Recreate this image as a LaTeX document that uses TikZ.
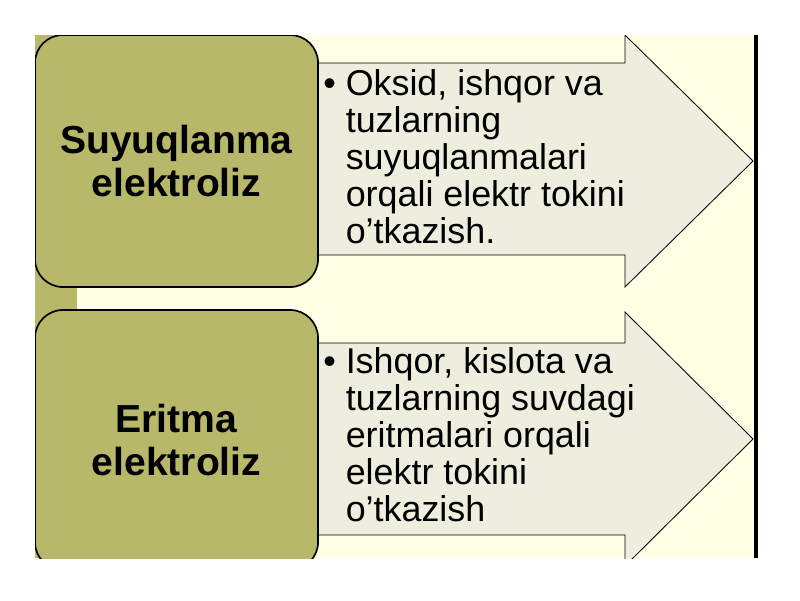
\documentclass[tikz,border=0pt]{standalone}
\usepackage{fontspec}
\setmainfont{Liberation Sans}
\definecolor{boxolive}{HTML}{B8B86A}
\definecolor{pagecream}{HTML}{FFFFE6}
\definecolor{arrowgrey}{HTML}{EEEEDF}

\begin{document}
\begin{tikzpicture}[x=0.025cm, y=-0.025cm]

\tikzstyle{stagebox}=[rectangle, draw=black, line width=1.2pt, fill=boxolive, rounded corners=0.7cm, minimum width=7.075cm, align=center, font=\bfseries\fontsize{27.8}{30}\selectfont]
\tikzstyle{arrowshape}=[draw=black, line width=0.6pt, fill=arrowgrey]
\tikzstyle{itemtext}=[anchor=north west, inner sep=0pt, align=left, font=\fontsize{25.5}{26.3}\selectfont]

\useasboundingbox[fill=white] (0,0) rectangle (800,600);
\fill[pagecream] (35,35) rectangle (757,558);
\fill[boxolive] (35,35) rectangle (77,558);

\begin{scope}
\clip (35,35) rectangle (757,558);
% arrows behind the boxes
\draw[arrowshape] (300,63) -- (625,63) -- (625,35) -- (753,161) -- (625,287) -- (625,255) -- (300,255) -- cycle;
\draw[arrowshape] (300,343) -- (625,343) -- (625,312) -- (753,439) -- (625,566) -- (625,535) -- (300,535) -- cycle;
\node[stagebox, minimum height=6.3cm] (melt) at (176.5,161) {Suyuqlanma\\elektroliz};
\node[stagebox, minimum height=6.5cm] (solution) at (176.5,440) {Eritma\\elektroliz};
\end{scope}

\node[itemtext] (melttext) at (323,69) {\textbullet\ Oksid, ishqor va\\
\hphantom{\textbullet\ }tuzlarning\\
\hphantom{\textbullet\ }suyuqlanmalari\\
\hphantom{\textbullet\ }orqali elektr tokini\\
\hphantom{\textbullet\ }o’tkazish.};
\node[itemtext] (solutiontext) at (323,347) {\textbullet\ Ishqor, kislota va\\
\hphantom{\textbullet\ }tuzlarning suvdagi\\
\hphantom{\textbullet\ }eritmalari orqali\\
\hphantom{\textbullet\ }elektr tokini\\
\hphantom{\textbullet\ }o’tkazish};

\draw[line width=3pt] (756,35) -- (756,558);

\end{tikzpicture}
\end{document}
